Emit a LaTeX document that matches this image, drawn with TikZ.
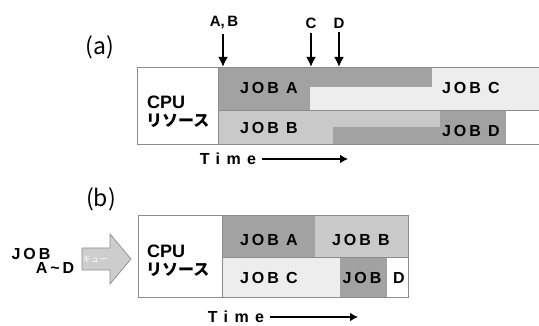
\documentclass[tikz,border=0pt]{standalone}
\usepackage{fontspec}
\setmainfont{Liberation Sans}
\newfontfamily\jobf{Liberation Sans}[LetterSpace=18]
\newfontfamily\timef{Liberation Sans}[LetterSpace=40]
\newfontfamily\jp{Noto Sans CJK JP}
\usetikzlibrary{arrows.meta}
\definecolor{jdark}{HTML}{A2A2A2}
\definecolor{jmid}{HTML}{C9C9C9}
\definecolor{jlight}{HTML}{EDEDED}
\definecolor{bord}{HTML}{8C8C8C}
\definecolor{qfill}{HTML}{CDCDCD}
\tikzset{
  jobtxt/.style={font=\jobf\bfseries\fontsize{16}{16}\selectfont, inner sep=0pt},
  timetxt/.style={font=\timef\bfseries\fontsize{16}{16}\selectfont, inner sep=0pt},
  cputxt/.style={font=\bfseries\fontsize{18}{18}\selectfont, inner sep=0pt, anchor=west},
  restxt/.style={font=\jp\bfseries\fontsize{16}{16}\selectfont, inner sep=0pt, anchor=west},
  lbltxt/.style={font=\jp\fontsize{23}{24}\selectfont, inner sep=0pt},
  toptxt/.style={font=\bfseries\fontsize{15}{15}\selectfont, inner sep=0pt},
  darr/.style={line width=2.8pt, -{Latex[length=10pt,width=10pt]}},
  tarr/.style={line width=2.6pt, -{Latex[length=8pt,width=9pt]}},
  boxline/.style={draw=bord, line width=0.8pt}
}
\begin{document}
\begin{tikzpicture}[x=1pt,y=-1pt]
\useasboundingbox (0,0) rectangle (539,326);
% ---------------- (a) ----------------
\node[lbltxt] (la) at (100,47) {(a)};
\fill[jlight] (218,67) rectangle (539,110);
\fill[jdark] (218,67) rectangle (310,110);
\fill[jdark] (310,67) rectangle (432,87);
\fill[jmid] (218,110) rectangle (440,144);
\fill[jdark] (333,127) rectangle (440,144);
\fill[jdark] (440,110) rectangle (506,144);
\draw[boxline] (539,67) -- (137,67) -- (137,144) -- (539,144);
\draw[boxline] (218,67) -- (218,144);
\draw[boxline] (218,110) -- (539,110);
\node[cputxt] (cpua) at (147,102) {CPU};
\node[restxt] (resa) at (146,121) {リソース};
\node[jobtxt] (ja) at (269,88) {JOB A};
\node[jobtxt] (jb) at (269,128) {JOB B};
\node[jobtxt] (jc) at (471,88) {JOB C};
\node[jobtxt] (jd) at (471,131) {JOB D};
\node[toptxt] (lab) at (224,23) {A,\,B};
\node[toptxt] (lc) at (311,23) {C};
\node[toptxt] (ld) at (339,23) {D};
\coordinate (tab) at (223,67);
\coordinate (tc) at (311,67);
\coordinate (td) at (339,67);
\draw[darr] (lab.south -| tab) ++(0,4) -- (tab);
\draw[darr] (lc.south) ++(0,4) -- (tc);
\draw[darr] (ld.south) ++(0,4) -- (td);
\node[timetxt] (timea) at (228,159) {Time};
\coordinate (tea) at (348,159);
\draw[tarr] (timea.east) ++(6,0) -- (tea);
% ---------------- (b) ----------------
\node[lbltxt] (lb) at (101,199) {(b)};
\fill[jdark] (222,215) rectangle (315,257);
\fill[jmid] (315,215) rectangle (408,257);
\fill[jlight] (222,257) rectangle (340,297);
\fill[jdark] (340,257) rectangle (387,297);
\draw[boxline] (138,215) rectangle (408,297);
\draw[boxline] (222,215) -- (222,297);
\draw[boxline] (222,257) -- (408,257);
\node[cputxt] (cpub) at (147,251) {CPU};
\node[restxt] (resb) at (146,270) {リソース};
\node[jobtxt] (jba) at (269,240) {JOB A};
\node[jobtxt] (jbb) at (361,240) {JOB B};
\node[jobtxt] (jbc) at (269,278) {JOB C};
\node[jobtxt] (jbd) at (362,278) {JOB};
\node[jobtxt] (jbd2) at (399,278) {D};
\node[timetxt] (timeb) at (236,317) {Time};
\coordinate (teb) at (358,317);
\draw[tarr] (timeb.east) ++(6,0) -- (teb);
% queue arrow
\draw[draw=bord, fill=qfill, line width=0.7pt] (82,248) -- (110,248) -- (110,234) -- (131,259) -- (110,284) -- (110,270) -- (82,270) -- cycle;
\node[font=\jp\fontsize{8.5}{8.5}\selectfont, text=white, inner sep=0pt] (q) at (95,259) {キュー};
\node[jobtxt] (jq1) at (31,254) {JOB};
\node[jobtxt] (jq2) at (55,268) {A\textasciitilde D};
\end{tikzpicture}
\end{document}
